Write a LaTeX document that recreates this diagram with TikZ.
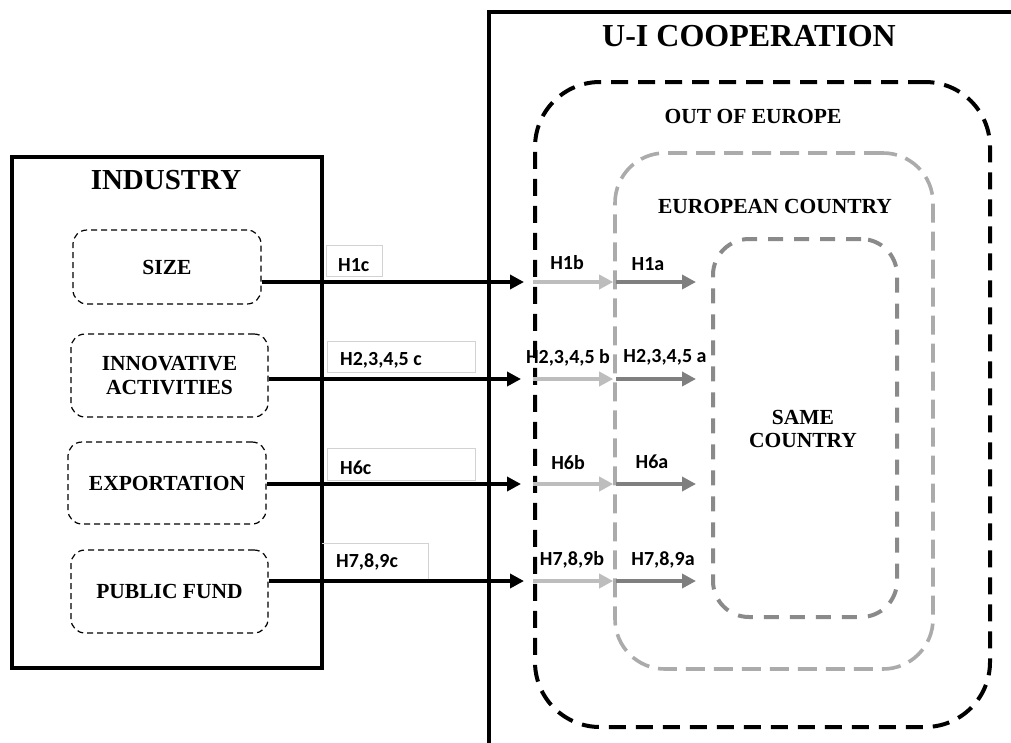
\documentclass[tikz,border=0pt]{standalone}
\usepackage{fontspec}
\setmainfont{Liberation Serif}
\newfontfamily\hypfont{Carlito}
\usetikzlibrary{arrows.meta}

\definecolor{lightarr}{HTML}{BDBDBD}
\definecolor{darkarr}{HTML}{7F7F7F}
\definecolor{eurogray}{HTML}{ABABAB}
\definecolor{samegray}{HTML}{8A8A8A}
\definecolor{tagline}{HTML}{D2D2D2}

\begin{document}
\begin{tikzpicture}[x=1pt,y=-1pt,
  frame/.style={draw, line width=4pt},
  title/.style={font=\bfseries\fontsize{29}{32}\selectfont, inner sep=0pt},
  factor/.style={draw, dash pattern=on 6pt off 4pt, line width=1.2pt,
    rounded corners=14pt, align=center, inner sep=0pt,
    font=\bfseries\fontsize{21.5}{24}\selectfont},
  region/.style={draw, rounded corners=#1, inner sep=0pt},
  regtext/.style={align=center, inner sep=0pt,
    font=\bfseries\fontsize{21.5}{23.5}\selectfont},
  tagbox/.style={draw=tagline, line width=1pt, inner sep=0pt, anchor=north west},
  hyp/.style={inner sep=0pt, font=\hypfont\bfseries\fontsize{20}{22}\selectfont},
  tip/.style={-{Triangle[length=14pt,width=14pt]}, line width=4.6pt},
  mainarrow/.style={tip, draw=black},
  outarrow/.style={tip, draw=lightarr},
  inarrow/.style={tip, draw=darkarr},
]
\useasboundingbox (0,0) rectangle (1011,742);
\clip (0,0) rectangle (1011,742);

% ---- industry side ----
\draw[frame] (12,157) rectangle (322,668);
\node[title] (industry) at (166,180) {INDUSTRY};

\node[factor, minimum width=188pt, minimum height=74pt] (size) at (167,267) {SIZE};
\node[factor, minimum width=197pt, minimum height=83pt] (innov) at (169.5,375.5) {INNOVATIVE\\ACTIVITIES};
\node[factor, minimum width=198pt, minimum height=82pt] (export) at (167,483) {EXPORTATION};
\node[factor, minimum width=197pt, minimum height=83pt] (fund) at (169.5,591.5) {PUBLIC FUND};

% ---- cooperation side ----
\draw[frame] (1030,12) -- (489,12) -- (489,760);
\node[title, font=\bfseries\fontsize{32}{35}\selectfont] (coop) at (749,36) {U-I COOPERATION};

\node[region=65pt, line width=4pt, dash pattern=on 17pt off 10pt,
  minimum width=455pt, minimum height=645pt] (outeu) at (762.5,404.5) {};
\node[region=50pt, draw=eurogray, line width=3.6pt, dash pattern=on 19pt off 9pt,
  minimum width=318pt, minimum height=516pt] (euro) at (774,411) {};
\node[region=36pt, draw=samegray, line width=4pt, dash pattern=on 15pt off 11pt,
  minimum width=184pt, minimum height=378pt] (same) at (805,428) {};

\node[regtext] (outeutxt) at (753,116) {OUT OF EUROPE};
\node[regtext] (eurotxt) at (775,206) {EUROPEAN COUNTRY};
\node[regtext] (sametxt) at (803,429) {SAME\\COUNTRY};

% ---- arrow rows ----
\coordinate (r1) at (0,282);
\coordinate (r2) at (0,379);
\coordinate (r3) at (0,484);
\coordinate (r4) at (0,581);

\coordinate (e1) at (524,282);
\coordinate (e2) at (521,379);
\coordinate (e3) at (521,484);
\coordinate (e4) at (524,581);

% ---- hypothesis tags (drawn beneath the arrows) ----
\node[tagbox, minimum width=56pt, minimum height=31pt] (t1) at (326,245) {};
\node[tagbox, minimum width=148pt, minimum height=31pt] (t2) at (327,341) {};
\node[tagbox, minimum width=148pt, minimum height=32pt] (t3) at (327,448) {};
\node[tagbox, draw=none, minimum width=105pt, minimum height=38pt] (t4) at (322,543) {};
\draw[draw=tagline, line width=1pt] (t4.north west) -- (t4.north east) -- (t4.south east);

\draw[mainarrow] (size.east |- r1) -- (e1);
\draw[mainarrow] (innov.east |- r2) -- (e2);
\draw[mainarrow] (export.east |- r3) -- (e3);
\draw[mainarrow] (fund.east |- r4) -- (e4);

\foreach \r in {r1,r2,r3,r4}{
  \draw[outarrow] (outeu.west |- \r) -- (euro.west |- \r);
  \draw[inarrow] ([xshift=3pt]euro.west |- \r) -- ([xshift=-15pt]same.west |- \r);
}

\node[hyp, anchor=west] (h1c) at (338,265) {H1c};
\node[hyp, anchor=west] (h2c) at (340,360) {H2,3,4,5 c};
\node[hyp, anchor=west] (h6c) at (340,468) {H6c};
\node[hyp, anchor=west] (h7c) at (336,562) {H7,8,9c};

\node[hyp] (h1b) at (567,263) {H1b};
\node[hyp] (h1a) at (648,264) {H1a};
\node[hyp] (h2b) at (568,358) {H2,3,4,5 b};
\node[hyp] (h2a) at (665,357) {H2,3,4,5 a};
\node[hyp] (h6b) at (568,463) {H6b};
\node[hyp] (h6a) at (652,462) {H6a};
\node[hyp] (h7b) at (572,560) {H7,8,9b};
\node[hyp] (h7a) at (663,560) {H7,8,9a};
\end{tikzpicture}
\end{document}
